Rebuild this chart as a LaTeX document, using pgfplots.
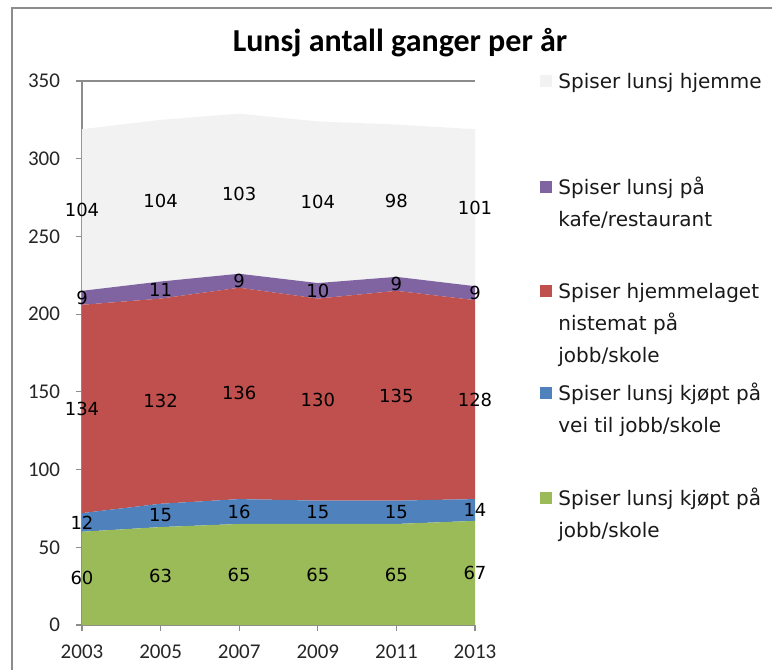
\documentclass[border=0pt]{standalone}
\usepackage{fontspec}
\setmainfont{Carlito}
\newfontfamily\dejavu{DejaVu Sans}
\usepackage{pgfplots}
\usepackage{pgfplotstable}
\pgfplotsset{compat=1.18}

\definecolor{cgreen}{HTML}{9BBB59}
\definecolor{cblue}{HTML}{4F81BD}
\definecolor{cred}{HTML}{C0504D}
\definecolor{cpurple}{HTML}{8064A2}
\definecolor{cgray}{HTML}{F2F2F2}
\definecolor{frame}{HTML}{8C8C8C}

% lunch counts per year, one column per category
\pgfplotstableread{
year green blue red purple gray
2003 60 12 134 9  104
2005 63 15 132 11 104
2007 65 16 136 9  103
2009 65 15 130 10 104
2011 65 15 135 9  98
2013 67 14 128 9  101
}\lunsj

\newcommand\legline[2]{\node[anchor=base west, inner sep=0pt, font=\dejavu\fontsize{10}{12}\selectfont, text=black!90] at (279,#1-3.6) {#2};}
\newcommand\legsq[2]{\fill[#1] (270,#2-2.9) rectangle (275.8,#2+2.9);}

\begin{document}
\begin{tikzpicture}[x=1pt,y=1pt]
\useasboundingbox (0,0) rectangle (386,335);
\draw[frame, line width=0.8pt] (6,0) -- (6,331) -- (386,331);

\begin{axis}[
  at={(41pt,22.5pt)}, anchor=south west,
  scale only axis, width=196.5pt, height=272pt,
  xmin=2003, xmax=2013, ymin=0, ymax=350,
  xtick={2003,2005,...,2013}, ytick={0,50,...,350},
  axis x line*=bottom, axis y line*=left,
  axis line style={frame, line width=0.6pt},
  tick align=outside, major tick length=3pt,
  tick style={frame, line width=0.6pt},
  ymajorgrids, grid style={frame, line width=0.6pt},
  /pgf/number format/assume math mode=true,
  /pgf/number format/1000 sep={},
  ticklabel style={font=\fontsize{10.5}{12}\selectfont, text=black!85},
  yticklabel style={xshift=-4.5pt},
  xticklabel style={yshift=-3.5pt},
  stack plots=y, clip=false,
  every node near coord/.append style={font=\dejavu\fontsize{9}{10}\selectfont, text=black, anchor=center},
]
\addplot[fill=cgreen, draw=none, point meta=explicit,
  visualization depends on={\thisrow{green} \as \rawv},
  nodes near coords, every node near coord/.append style={yshift=-\rawv*0.38857pt}]
  table[x=year, y=green, meta=green] {\lunsj} \closedcycle;
\addplot[fill=cblue, draw=none, point meta=explicit,
  visualization depends on={\thisrow{blue} \as \rawv},
  nodes near coords, every node near coord/.append style={yshift=-\rawv*0.38857pt}]
  table[x=year, y=blue, meta=blue] {\lunsj} \closedcycle;
\addplot[fill=cred, draw=none, point meta=explicit,
  visualization depends on={\thisrow{red} \as \rawv},
  nodes near coords, every node near coord/.append style={yshift=-\rawv*0.38857pt}]
  table[x=year, y=red, meta=red] {\lunsj} \closedcycle;
\addplot[fill=cpurple, draw=none, point meta=explicit,
  visualization depends on={\thisrow{purple} \as \rawv},
  nodes near coords, every node near coord/.append style={yshift=-\rawv*0.38857pt}]
  table[x=year, y=purple, meta=purple] {\lunsj} \closedcycle;
\addplot[fill=cgray, draw=none, point meta=explicit,
  visualization depends on={\thisrow{gray} \as \rawv},
  nodes near coords, every node near coord/.append style={yshift=-\rawv*0.38857pt}]
  table[x=year, y=gray, meta=gray] {\lunsj} \closedcycle;
\end{axis}

\node[font=\bfseries\fontsize{16}{19}\selectfont, text=black] at (200,313.5) {Lunsj antall ganger per år};

\legsq{cgray}{294.5}
\legline{294.5}{Spiser lunsj hjemme}
\legsq{cpurple}{241.5}
\legline{241.5}{Spiser lunsj på}
\legline{225.5}{kafe/restaurant}
\legsq{cred}{189.5}
\legline{189.5}{Spiser hjemmelaget}
\legline{173.5}{nistemat på}
\legline{157.5}{jobb/skole}
\legsq{cblue}{138.5}
\legline{138.5}{Spiser lunsj kjøpt på}
\legline{122.5}{vei til jobb/skole}
\legsq{cgreen}{86}
\legline{86}{Spiser lunsj kjøpt på}
\legline{70}{jobb/skole}
\end{tikzpicture}
\end{document}
